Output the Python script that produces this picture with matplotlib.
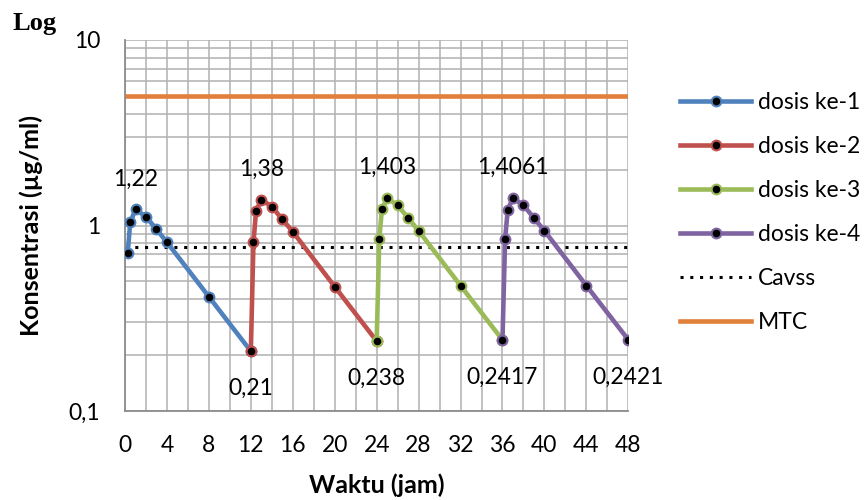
import matplotlib
matplotlib.use("Agg")
import matplotlib.pyplot as plt
from matplotlib.ticker import FixedLocator, MultipleLocator, NullFormatter

plt.rcParams['font.family'] = ['Lato', 'DejaVu Sans']

# data
x1 = [0.25, 0.5, 1, 2, 3, 4, 8, 12]
y1 = [0.708, 1.04, 1.22, 1.115, 0.954, 0.812, 0.413, 0.21]
x2 = [12, 12.25, 12.5, 13, 14, 15, 16, 20, 24]
y2 = [0.21, 0.81, 1.197, 1.38, 1.263, 1.08, 0.926, 0.468, 0.238]
x3 = [24, 24.25, 24.5, 25, 26, 27, 28, 32, 36]
y3 = [0.238, 0.843, 1.223, 1.403, 1.285, 1.098, 0.937, 0.474, 0.2417]
x4 = [36, 36.25, 36.5, 37, 38, 39, 40, 44, 48]
y4 = [0.2417, 0.843, 1.213, 1.4061, 1.285, 1.098, 0.937, 0.474, 0.2421]
cavss = 0.77
mtc = 5.0
x_range = [0, 48]

series = [
    ("dosis ke-1", x1, y1, "#4F81BD"),
    ("dosis ke-2", x2, y2, "#C0504D"),
    ("dosis ke-3", x3, y3, "#9BBB59"),
    ("dosis ke-4", x4, y4, "#8064A2"),
]

peak_x = [1, 13, 25, 37]
peak_y = [1.22, 1.38, 1.403, 1.4061]
peak_txt = ["1,22", "1,38", "1,403", "1,4061"]
trough_x = [12, 24, 36, 48]
trough_y = [0.21, 0.238, 0.2417, 0.2421]
trough_txt = ["0,21", "0,238", "0,2417", "0,2421"]

fig = plt.figure(figsize=(8.64, 5), dpi=100)
ax = fig.add_axes([0.1447, 0.178, 0.5825, 0.742])

for name, xs, ys, c in series:
    ax.plot(xs, ys, color=c, linewidth=3.3, marker='o', markersize=7,
            markerfacecolor='black', markeredgecolor=c, markeredgewidth=1.5,
            label=name, zorder=3)

ax.plot(x_range, [cavss, cavss], color='black', linestyle=(0, (1, 2.2)),
        linewidth=2.2, label="Cavss", zorder=2)
ax.plot(x_range, [mtc, mtc], color='#E0803A', linewidth=3.3, label="MTC", zorder=2)

ax.set_yscale('log')
ax.set_ylim(0.1, 10)
ax.set_xlim(0, 48)
ax.xaxis.set_major_locator(MultipleLocator(4))
ax.xaxis.set_minor_locator(MultipleLocator(2))
ax.yaxis.set_major_locator(FixedLocator([0.1, 1, 10]))
ax.set_yticklabels(["0,1", "1", "10"])
ax.yaxis.set_minor_formatter(NullFormatter())

ax.grid(which='both', color='#B0B0B0', linewidth=1.1)
ax.set_axisbelow(True)
for s in ['top', 'right']:
    ax.spines[s].set_visible(False)
for s in ['left', 'bottom']:
    ax.spines[s].set_color('#8C8C8C')
    ax.spines[s].set_linewidth(1.3)
ax.tick_params(which='both', length=0, labelsize=16.5, colors='black')
ax.tick_params(axis='x', pad=17)
ax.tick_params(axis='y', pad=18)

for x, y, t in zip(peak_x, peak_y, peak_txt):
    ax.annotate(t, (x, y), xytext=(0, 24), textcoords='offset pixels',
                ha='center', va='baseline', fontsize=16.5)
for x, y, t in zip(trough_x, trough_y, trough_txt):
    ax.annotate(t, (x, y), xytext=(0, -44), textcoords='offset pixels',
                ha='center', va='baseline', fontsize=16.5)

ax.set_xlabel("Waktu (jam)", fontsize=18, fontweight='bold', labelpad=13)
ax.set_ylabel("Konsentrasi (\u00b5g/ml)", fontsize=18, fontweight='bold', labelpad=18)

fig.text(0.015, 0.94, "Log", fontsize=19, fontweight='bold',
         family=['Liberation Serif', 'DejaVu Serif'])

fig.legend(loc='upper left', bbox_to_anchor=(0.774, 0.838), frameon=False,
           fontsize=16.5, handlelength=3.1, labelspacing=1.0, handletextpad=0.3,
           borderpad=0)

fig.savefig("out.png", dpi=100)
